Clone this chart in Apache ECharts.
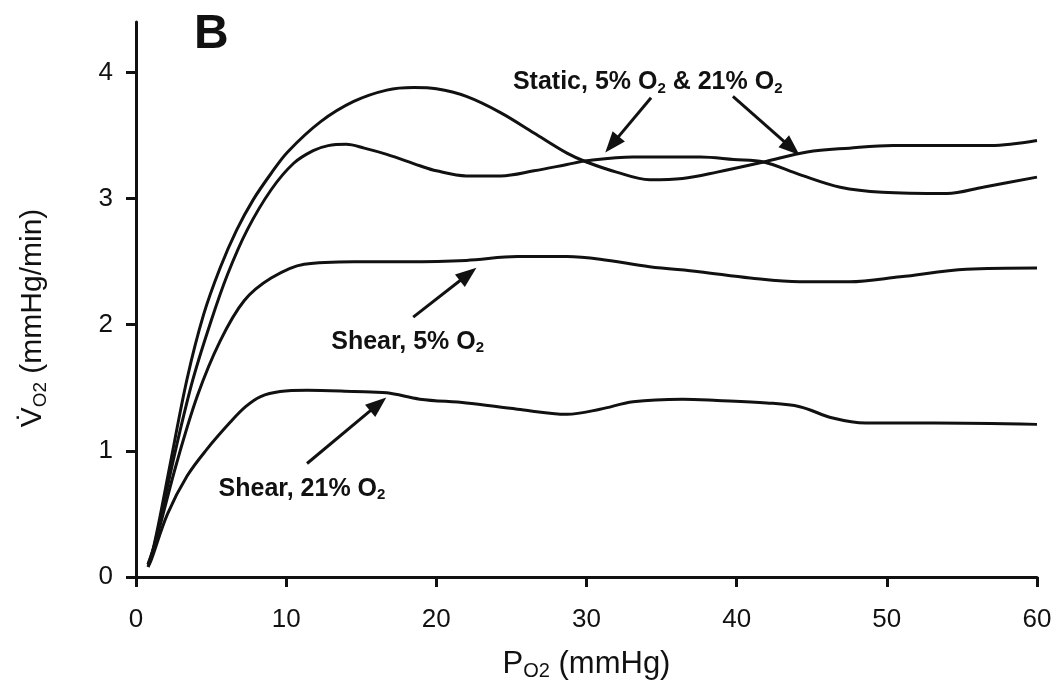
<!DOCTYPE html>
<html><head><meta charset="utf-8">
<script src="https://cdn.jsdelivr.net/npm/echarts@6/dist/echarts.min.js"></script>
<style>html,body{margin:0;padding:0;background:#fff}#c{width:1064px;height:695px}</style>
</head><body><div id="c"></div>
<script>
// ---- data (x = PO2 mmHg, y = VO2 mmHg/min) ----
const xTicks = [0, 10, 20, 30, 40, 50, 60];
const yTicks = [0, 1, 2, 3, 4];

const staticHigh = [[0.8,0.08],[1.0,0.15],[1.5,0.42],[2.3,0.91],[3.4,1.57],[4.5,2.08],[5.6,2.45],[6.7,2.75],[7.8,2.99],[9.0,3.2],[10.1,3.37],[12.3,3.61],[14.5,3.77],[16.7,3.86],[18.5,3.88],[20.0,3.87],[22.0,3.81],[24.3,3.68],[26.5,3.52],[28.7,3.36],[30.0,3.29],[32.0,3.21],[34.2,3.15],[36.4,3.16],[38.7,3.21],[41.8,3.29],[44.7,3.37],[47.5,3.40],[50.4,3.42],[53.5,3.42],[56.9,3.42],[60.0,3.46]];
const staticLow = [[0.8,0.1],[1.2,0.24],[2.7,1.04],[3.8,1.57],[5.0,2.03],[6.1,2.4],[7.4,2.75],[9.0,3.07],[10.5,3.28],[11.8,3.38],[12.8,3.42],[14.0,3.43],[15.2,3.40],[16.7,3.35],[18.9,3.26],[20.0,3.22],[22.0,3.18],[24.3,3.18],[26.5,3.22],[28.7,3.27],[30.0,3.30],[33.1,3.33],[37.6,3.33],[39.8,3.31],[41.8,3.29],[44.2,3.19],[46.9,3.09],[49.7,3.05],[54.0,3.04],[56.4,3.09],[60.0,3.17]];
const shear5 = [[0.8,0.1],[1.4,0.32],[2.7,0.9],[4.1,1.44],[5.6,1.87],[7.2,2.19],[9.0,2.37],[11.2,2.48],[14.5,2.5],[18.0,2.5],[22.0,2.51],[25.4,2.54],[28.7,2.54],[30.9,2.52],[34.2,2.46],[37.5,2.42],[40.9,2.37],[44.2,2.34],[47.5,2.34],[50.9,2.38],[55.3,2.44],[60.0,2.45]];
const shear21 = [[0.8,0.08],[1.0,0.13],[2.1,0.5],[3.4,0.8],[4.7,1.01],[6.3,1.23],[7.3,1.35],[8.3,1.43],[9.6,1.47],[11.4,1.48],[14.5,1.47],[16.7,1.46],[18.9,1.41],[22.0,1.38],[25.4,1.33],[28.7,1.29],[30.9,1.33],[33.1,1.39],[36.4,1.41],[38.7,1.40],[42.0,1.38],[44.2,1.35],[46.4,1.26],[48.6,1.22],[53.1,1.22],[60.0,1.21]];

const annotationTexts = ['{b|Static, 5% O}{s|2}{b| & 21% O}{s|2}', '{b|Shear, 5% O}{s|2}', '{b|Shear, 21% O}{s|2}'];
const annotationAnchors = [[25.1, 3.92], [13.0, 1.865], [5.5, 0.70]];
const arrowSegments = [
  [[34.3, 3.80], [31.7, 3.43]],
  [[39.75, 3.81], [43.66, 3.40]],
  [[18.46, 2.06], [22.12, 2.40]],
  [[11.39, 0.90], [16.13, 1.37]]
];

// ---- chart ----
const FONT = 'Liberation Sans, Arial, Helvetica, sans-serif';
const INK = '#111111';
const chart = echarts.init(document.getElementById('c'), null, {renderer: 'canvas'});

const curveSeries = [staticHigh, staticLow, shear5, shear21].map(d => ({
  type: 'line', data: d, showSymbol: false, smooth: 0.35, silent: true,
  lineStyle: {color: INK, width: 3}, animation: false
}));

const option = {
  backgroundColor: '#fff',
  animation: false,
  grid: {left: 136, right: 27, top: 22, bottom: 118, containLabel: false},
  xAxis: {
    type: 'value', min: 0, max: 60, interval: 10,
    axisLine: {lineStyle: {color: INK, width: 3}},
    axisTick: {length: 10, lineStyle: {color: INK, width: 3}, customValues: xTicks},
    axisLabel: {fontSize: 26, color: INK, margin: 30, fontFamily: FONT, customValues: xTicks},
    splitLine: {show: false},
    name: '{n|P}{s|O2}{n| (mmHg)}',
    nameLocation: 'middle', nameGap: 70,
    nameTextStyle: {
      color: INK, fontFamily: FONT,
      rich: {
        n: {fontSize: 31, lineHeight: 34, color: INK, fontFamily: FONT},
        s: {fontSize: 20, lineHeight: 20, color: INK, fontFamily: FONT, verticalAlign: 'bottom', padding: [22, 0, 0, 0]}
      }
    }
  },
  yAxis: {
    type: 'value', min: 0, max: 4.4, interval: 1,
    axisLine: {lineStyle: {color: INK, width: 3}},
    axisTick: {length: 10, lineStyle: {color: INK, width: 3}, customValues: yTicks},
    axisLabel: {fontSize: 26, color: INK, margin: 23, fontFamily: FONT, customValues: yTicks},
    splitLine: {show: false}
  },
  series: curveSeries.concat([{
    type: 'scatter', symbolSize: 0, silent: true, animation: false,
    itemStyle: {opacity: 1, color: INK},
    data: annotationAnchors.map((p, i) => ({name: annotationTexts[i], value: p})),
    label: {
      show: true, position: 'right', distance: 0, color: INK, opacity: 1,
      formatter: p => p.name,
      rich: {
        b: {fontSize: 25, fontWeight: 'bold', lineHeight: 28, color: INK, fontFamily: FONT},
        s: {fontSize: 15, fontWeight: 'bold', lineHeight: 15, color: INK, fontFamily: FONT, verticalAlign: 'bottom', padding: [16, 0, 0, 0]}
      }
    },
    markLine: {
      silent: true, animation: false,
      symbol: ['none', 'triangle'], symbolSize: [16, 21],
      label: {show: false},
      lineStyle: {color: INK, width: 3, type: 'solid', opacity: 1},
      itemStyle: {color: INK, opacity: 1},
      data: arrowSegments.map(s => [{coord: s[0]}, {coord: s[1]}])
    }
  }]),
  graphic: [
    {type: 'text', left: 194, top: 11, style: {text: 'B', font: 'bold 48px ' + FONT, fill: INK}},
    {type: 'text', x: 33, y: 318, rotation: Math.PI / 2,
      style: {
        text: '{v|V\u0307}{s|O2}{n| (mmHg/min)}', align: 'center', verticalAlign: 'middle', fill: INK,
        rich: {
          v: {fontSize: 30, lineHeight: 34, fill: INK, fontFamily: FONT},
          n: {fontSize: 30, lineHeight: 34, fill: INK, fontFamily: FONT},
          s: {fontSize: 19, lineHeight: 19, fill: INK, fontFamily: FONT, verticalAlign: 'bottom', padding: [21, 0, 0, 0]}
        }
      }
    }
  ]
};
chart.setOption(option);
</script>
</body></html>
